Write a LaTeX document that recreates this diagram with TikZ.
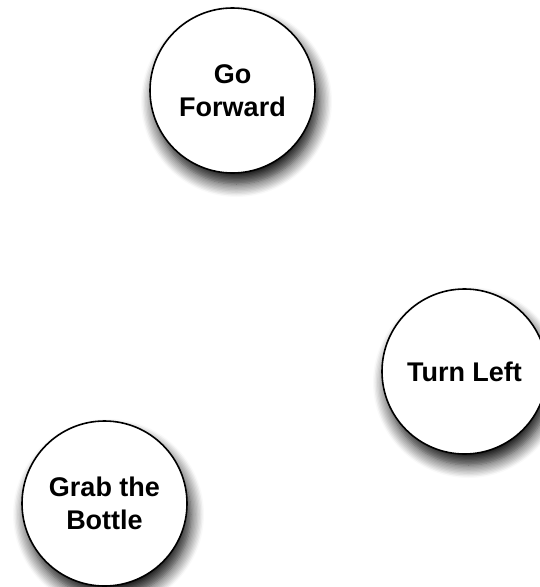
\documentclass[tikz,border=0pt]{standalone}
\usepackage{fontspec}
\setmainfont{Liberation Sans}
\usetikzlibrary{shadows.blur}

\begin{document}
\begin{tikzpicture}[
  x=1pt,
  y=-1pt,
  every node/.style={font=\fontsize{27}{33}\selectfont\bfseries, black},
  action/.style={circle, draw=black, line width=1.6pt, fill=white,
                 minimum size=165pt, inner sep=0pt, align=center,
                 blur shadow={shadow xshift=4pt, shadow yshift=-11pt,
                              shadow blur radius=13pt, shadow blur steps=10,
                              shadow opacity=95}}
]
  % ---- page frame, same size as the reference ----
  \useasboundingbox (0,0) rectangle (540,587);

  % ---- the three actions ----
  \node[action] (gofwd) at (232.5,90.5) {Go\\Forward};
  \node[action] (turnleft) at (464.5,371.5) {Turn Left};
  \node[action] (grab) at (104.5,503.5) {Grab the\\Bottle};
\end{tikzpicture}
\end{document}
